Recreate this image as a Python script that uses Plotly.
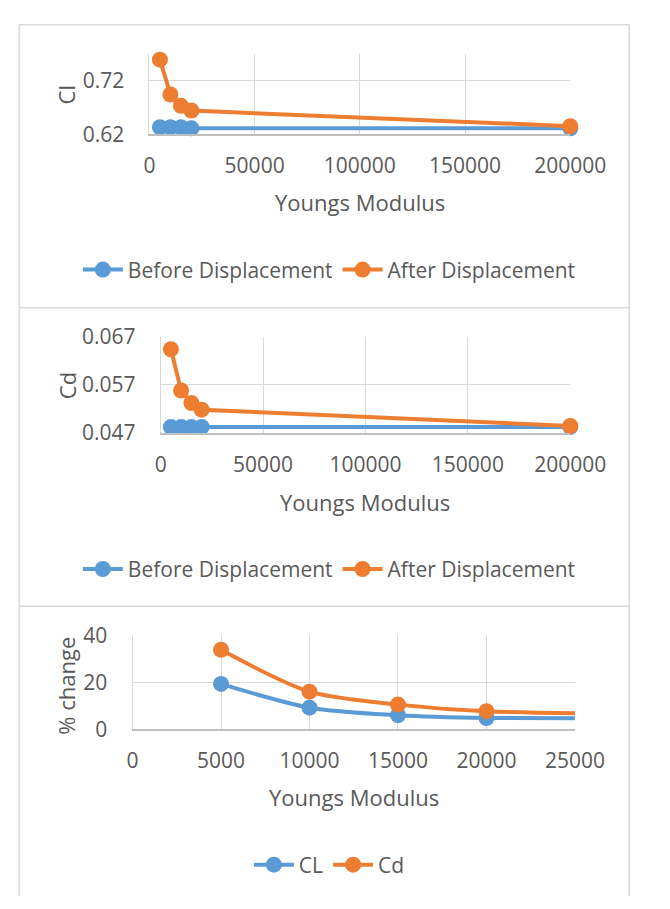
import plotly.graph_objects as go

# ---- data -------------------------------------------------------------
youngs = [5000, 10000, 15000, 20000, 200000]

cl_before = [0.633, 0.633, 0.633, 0.631, 0.631]
cl_after = [0.759, 0.694, 0.673, 0.664, 0.635]

cd_before = [0.0482, 0.0482, 0.0482, 0.0482, 0.0482]
cd_after = [0.0644, 0.0558, 0.0532, 0.0518, 0.0484]

pct_cl = [19.3, 9.2, 6.0, 4.8, 0.6]
pct_cd = [33.8, 16.0, 10.5, 7.7, 0.4]

x_ticks_wide = [0, 50000, 100000, 150000, 200000]
x_ticks_zoom = [0, 5000, 10000, 15000, 20000, 25000]

# ---- styling ----------------------------------------------------------
W, H = 670, 909
BLUE = "#5B9BD5"
ORANGE = "#ED7D31"
TEXT = "#595959"
GRID = "#D9D9D9"
AXIS = "#BFBFBF"
FONT = "Open Sans"
TICK_SIZE = 21
TITLE_SIZE = 22
LEG_SIZE = 21


def px_x(v):
    return v / W


def px_y(v):
    return 1 - v / H


fig = go.Figure()


def add_series(x, y, name, color, xa, ya, legend, shape="linear", clip=False):
    fig.add_trace(go.Scatter(
        x=x, y=y, name=name, mode="lines+markers",
        line=dict(color=color, width=4, shape=shape, smoothing=0.8),
        marker=dict(color=color, size=16),
        xaxis=xa, yaxis=ya, legend=legend, cliponaxis=clip,
    ))


# Cl chart
add_series(youngs, cl_before, "Before Displacement", BLUE, "x", "y", "legend")
add_series(youngs, cl_after, "After Displacement", ORANGE, "x", "y", "legend")
# Cd chart
add_series(youngs, cd_before, "Before Displacement", BLUE, "x2", "y2", "legend2")
add_series(youngs, cd_after, "After Displacement", ORANGE, "x2", "y2", "legend2")
# % change chart (smoothed)
add_series(youngs, pct_cl, "CL", BLUE, "x3", "y3", "legend3", shape="spline", clip=True)
add_series(youngs, pct_cd, "Cd", ORANGE, "x3", "y3", "legend3", shape="spline", clip=True)

tickfont = dict(family=FONT, size=TICK_SIZE, color=TEXT)


def xaxis(dom, rng, ticks, anchor):
    return dict(
        domain=[px_x(dom[0]), px_x(dom[1])], range=rng, tickvals=ticks,
        tickformat="d", showgrid=True, gridcolor=GRID, gridwidth=1,
        showline=True, linecolor=AXIS, linewidth=1.5, zeroline=False,
        ticks="", ticklabelstandoff=12, tickfont=tickfont, anchor=anchor,
        fixedrange=True,
    )


def yaxis(dom, rng, ticks, fmt, anchor):
    return dict(
        domain=[px_y(dom[1]), px_y(dom[0])], range=rng, tickvals=ticks,
        tickformat=fmt, showgrid=True, gridcolor=GRID, gridwidth=1,
        showline=True, linecolor=GRID, linewidth=1, zeroline=False,
        ticks="", ticklabelstandoff=20, tickfont=tickfont, anchor=anchor,
        fixedrange=True,
    )


# plot-area pixel boxes: (left, right), (top, bottom)
box1 = ((153, 602), (40, 123))
box2 = ((165, 602), (332, 431))
box3 = ((135, 607), (640, 737))

legend_common = dict(
    orientation="h", xanchor="center", yanchor="middle",
    font=dict(family=FONT, size=LEG_SIZE, color=TEXT),
    bgcolor="rgba(0,0,0,0)", itemwidth=40, tracegroupgap=0,
)

fig.update_layout(
    width=W, height=H, margin=dict(l=0, r=0, t=0, b=0),
    paper_bgcolor="white", plot_bgcolor="white",
    font=dict(family=FONT, color=TEXT),
    xaxis=xaxis(box1[0], [0, 200000], x_ticks_wide, "y"),
    yaxis=yaxis(box1[1], [0.62, 0.77], [0.62, 0.72], ".2f", "x"),
    xaxis2=xaxis(box2[0], [0, 200000], x_ticks_wide, "y2"),
    yaxis2=yaxis(box2[1], [0.047, 0.067], [0.047, 0.057, 0.067], ".3f", "x2"),
    xaxis3=xaxis(box3[0], [0, 25000], x_ticks_zoom, "y3"),
    yaxis3=yaxis(box3[1], [0, 40], [0, 20, 40], "d", "x3"),
    legend=dict(x=px_x(345), y=px_y(263), **legend_common),
    legend2=dict(x=px_x(345), y=px_y(572), **legend_common),
    legend3=dict(x=px_x(345), y=px_y(877), **legend_common),
)

# axis titles
title_font = dict(family=FONT, size=TITLE_SIZE, color=TEXT)
annots = [
    ("Youngs Modulus", (box1[0][0] + box1[0][1]) / 2, 193, 0),
    ("Youngs Modulus", (box2[0][0] + box2[0][1]) / 2, 502, 0),
    ("Youngs Modulus", (box3[0][0] + box3[0][1]) / 2, 807, 0),
    ("Cl", 65, 82, -90),
    ("Cd", 65, 382, -90),
    ("% change", 64, 692, -90),
]
for txt, ax_, ay_, ang in annots:
    fig.add_annotation(
        text=txt, x=px_x(ax_), y=px_y(ay_), xref="paper", yref="paper",
        xanchor="center", yanchor="middle", showarrow=False,
        textangle=ang, font=title_font,
    )

# chart frames
frame = dict(type="line", xref="paper", yref="paper",
             line=dict(color=GRID, width=1.5), layer="below")
for yy in (10, 302, 610):
    fig.add_shape(x0=px_x(14), x1=px_x(665), y0=px_y(yy), y1=px_y(yy), **frame)
for xx in (14, 665):
    fig.add_shape(x0=px_x(xx), x1=px_x(xx), y0=px_y(10), y1=0, **frame)

fig.write_html("out.html")
